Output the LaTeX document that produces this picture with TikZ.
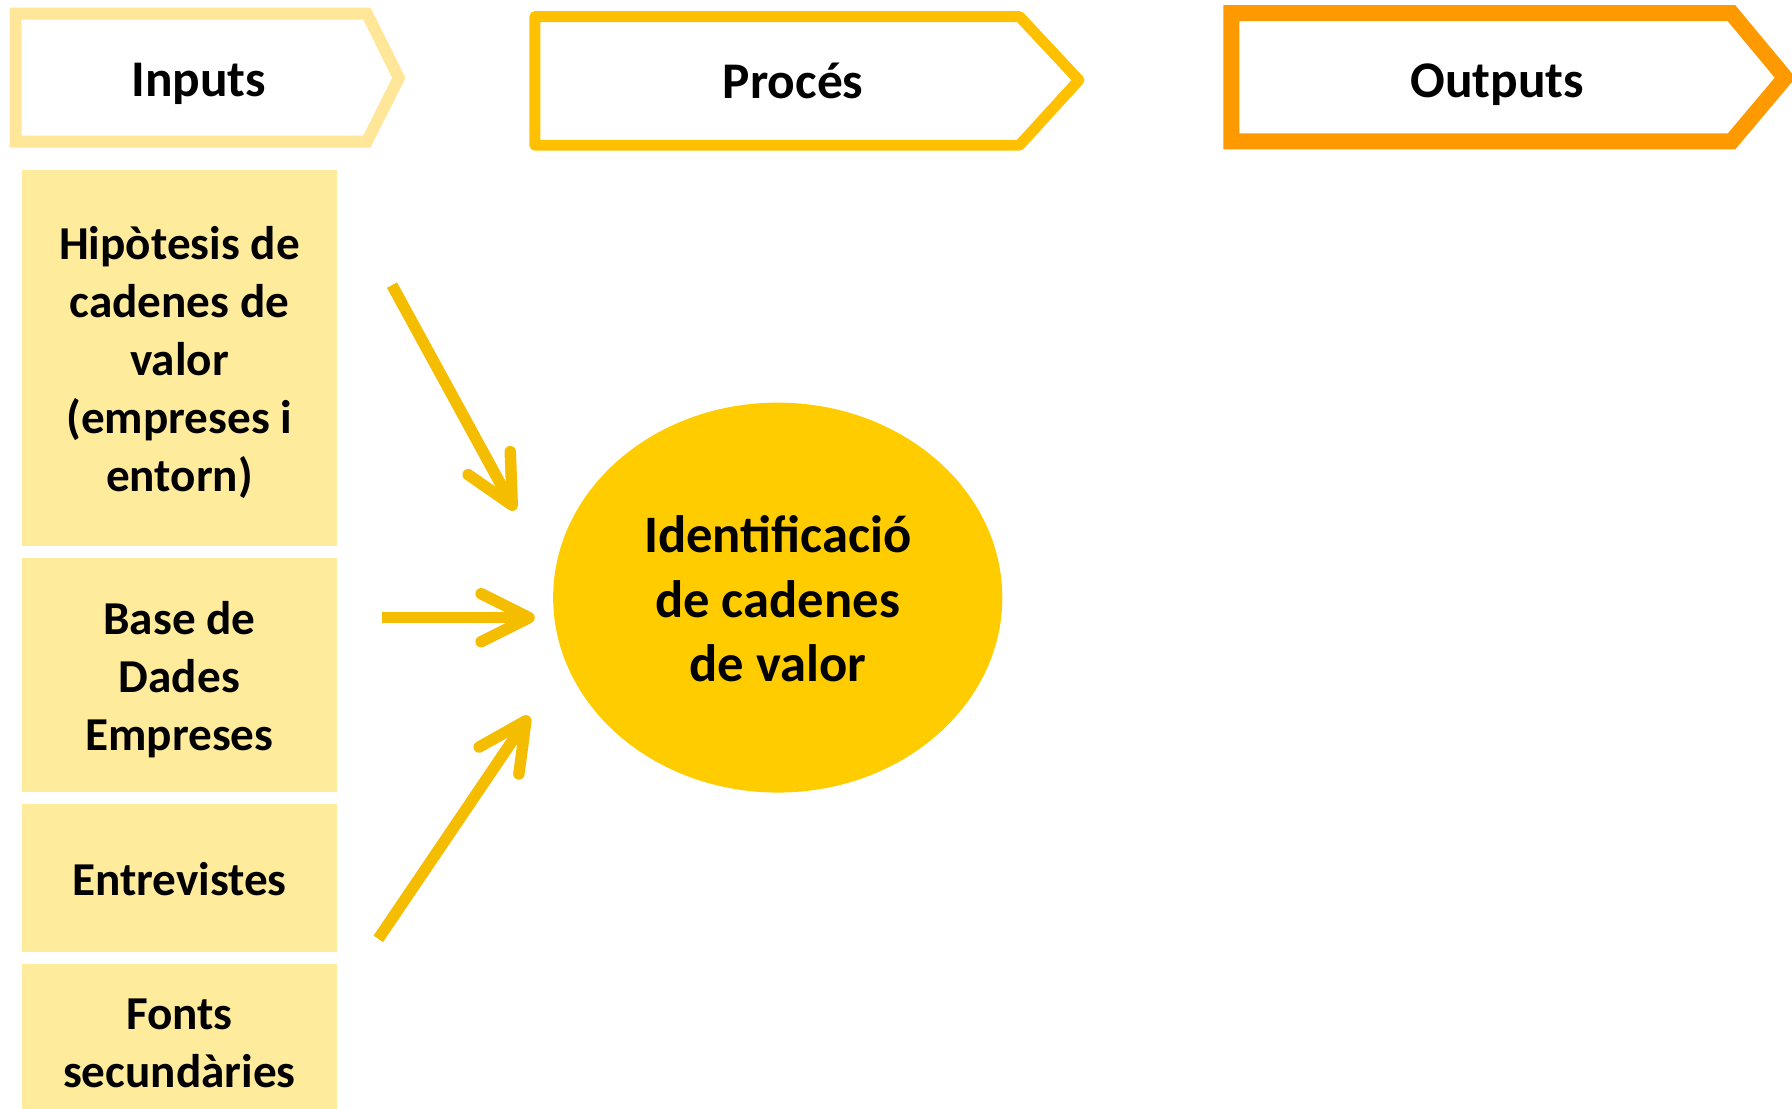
\documentclass[tikz,border=0pt]{standalone}
\usepackage{fontspec}
\setmainfont{Carlito}
\usepackage{tikz}
\usetikzlibrary{calc, arrows.meta, shapes.geometric, positioning}
\usepackage{tkz-euclide}
\definecolor{incol}{HTML}{FFE699}
\definecolor{proccol}{HTML}{FFC000}
\definecolor{outcol}{HTML}{FF9900}
\definecolor{boxfill}{HTML}{FFEB9C}
\definecolor{ellfill}{HTML}{FFCC00}
\definecolor{arrcol}{HTML}{F5BD00}
\newcommand{\lnstrut}{\rule[-0.2\baselineskip]{0pt}{\baselineskip}}

\begin{document}
\begin{tikzpicture}[>=latex, scale=1,
  inbox/.style={fill=boxfill, minimum width=2.75cm, inner sep=0pt, align=center,
    font=\fontsize{11.75}{14.4}\selectfont\bfseries},
  hdr/.style={anchor=base, font=\fontsize{12.8}{15.6}\selectfont\bfseries},
  arr/.style={draw=arrcol, line width=2.85pt, line cap=butt,
    -{Straight Barb[length=0.42cm, width=0.42cm, round]}}]
\useasboundingbox (0,0) rectangle (15.68,9.695);
\tkzDefPoints{0.137/9.576/I_1, 3.21/9.576/I_2, 3.49/9.014/I_3, 3.21/8.456/I_4, 0.137/8.456/I_5}
\tkzDefPoints{4.68/9.55/P_1, 8.92/9.55/P_2, 9.44/8.994/P_3, 8.92/8.424/P_4, 4.68/8.424/P_5}
\tkzDefPoints{10.774/9.58/O_1, 15.15/9.58/O_2, 15.62/9.015/O_3, 15.15/8.457/O_4, 10.774/8.457/O_5}
\tkzDrawPolygon[draw=incol, line width=2.96pt, line join=miter](I_1,I_2,I_3,I_4,I_5)
\tkzDrawPolygon[draw=proccol, line width=2.73pt, line join=round](P_1,P_2,P_3,P_4,P_5)
\tkzDrawPolygon[draw=outcol, line width=3.98pt, line join=miter](O_1,O_2,O_3,O_4,O_5)
\node[hdr] (inputs) at (1.739,8.854) {Inputs};
\node[hdr] (proces) at (6.94,8.831) {Procés};
\node[hdr] (outputs) at (13.10,8.845) {Outputs};

\node[inbox, minimum height=3.284cm] (hipo) at (1.57,6.562) {\lnstrut Hipòtesis de\\cadenes de\\valor\\(empreses i\\entorn)\lnstrut};
\node[inbox, minimum height=2.046cm] (bdades) at (1.57,3.787) {\lnstrut Base de\\Dades\\Empreses\lnstrut};
\node[inbox, minimum height=1.292cm] (entrev) at (1.57,2.01) {\lnstrut Entrevistes\lnstrut};
\node[inbox, minimum height=1.336cm] (fonts) at (1.57,0.588) {\lnstrut Fonts\\secundàries\lnstrut};

\node[ellipse, fill=ellfill, minimum width=3.93cm, minimum height=3.412cm, inner sep=0pt, align=center,
  font=\fontsize{13.1}{16.1}\selectfont\bfseries] (ident) at (6.805,4.466) {\lnstrut Identificació\\de cadenes\\de valor\lnstrut};

\tkzDefPoints{3.43/7.20/S_1, 4.506/5.23/T_1, 3.34/4.29/S_2, 4.68/4.29/T_2, 3.31/1.48/S_3, 4.63/3.43/T_3}
\tkzDrawSegments[arr](S_1,T_1 S_2,T_2 S_3,T_3)
\end{tikzpicture}
\end{document}
